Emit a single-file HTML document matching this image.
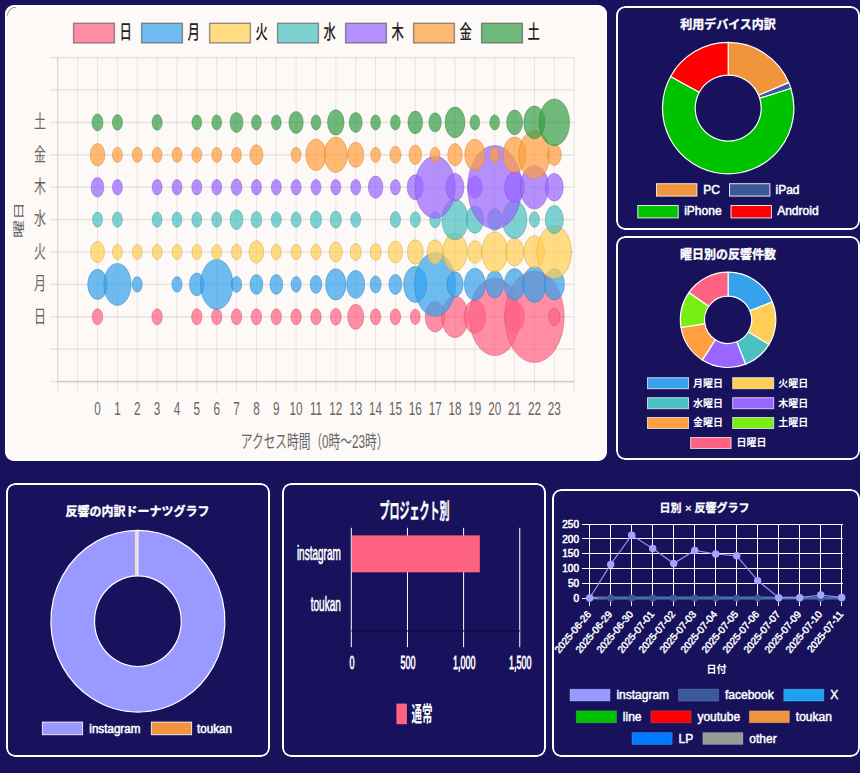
<!DOCTYPE html>
<html lang="ja">
<head>
<meta charset="utf-8">
<title>アクセス解析ダッシュボード</title>
<style>
html,body{margin:0;padding:0}
body{width:860px;height:773px;background:#18125c;position:relative;overflow:hidden;font-family:"Liberation Sans",sans-serif}
.card{position:absolute;margin:0;padding:0;border-radius:9px;overflow:hidden}
.card::after{content:"";position:absolute;left:0;top:0;right:0;bottom:0;border:2px solid #fff;border-radius:9px;box-sizing:border-box;pointer-events:none}
.card.light{background:#fdf9f7}
.card.light::after{border-color:#fffefe}
.card.dark{background:#18125c}
.card svg{position:absolute;left:0;top:0;display:block;font-family:"Liberation Sans","Noto Sans CJK JP",sans-serif}
.sr{position:absolute;width:1px;height:1px;margin:-1px;padding:0;overflow:hidden;clip:rect(0 0 0 0);clip-path:inset(50%);white-space:nowrap;border:0;font-size:1px;color:transparent}
</style>
</head>
<body>
<main>
<section class="card light" style="left:5px;top:5px;width:602px;height:456px;"><h2 class="sr">アクセス時間（0時～23時）× 曜日</h2><svg width="602" height="456" viewBox="5 5 602 456">
<rect x="57.30" y="57.60" width="1" height="336.00" fill="rgba(0,0,0,0.085)"/>
<rect x="77.16" y="57.60" width="1" height="336.00" fill="rgba(0,0,0,0.085)"/>
<rect x="97.02" y="57.60" width="1" height="336.00" fill="rgba(0,0,0,0.085)"/>
<rect x="116.88" y="57.60" width="1" height="336.00" fill="rgba(0,0,0,0.085)"/>
<rect x="136.74" y="57.60" width="1" height="336.00" fill="rgba(0,0,0,0.085)"/>
<rect x="156.60" y="57.60" width="1" height="336.00" fill="rgba(0,0,0,0.085)"/>
<rect x="176.46" y="57.60" width="1" height="336.00" fill="rgba(0,0,0,0.085)"/>
<rect x="196.32" y="57.60" width="1" height="336.00" fill="rgba(0,0,0,0.085)"/>
<rect x="216.18" y="57.60" width="1" height="336.00" fill="rgba(0,0,0,0.085)"/>
<rect x="236.04" y="57.60" width="1" height="336.00" fill="rgba(0,0,0,0.085)"/>
<rect x="255.90" y="57.60" width="1" height="336.00" fill="rgba(0,0,0,0.085)"/>
<rect x="275.76" y="57.60" width="1" height="336.00" fill="rgba(0,0,0,0.085)"/>
<rect x="295.62" y="57.60" width="1" height="336.00" fill="rgba(0,0,0,0.085)"/>
<rect x="315.48" y="57.60" width="1" height="336.00" fill="rgba(0,0,0,0.085)"/>
<rect x="335.34" y="57.60" width="1" height="336.00" fill="rgba(0,0,0,0.085)"/>
<rect x="355.20" y="57.60" width="1" height="336.00" fill="rgba(0,0,0,0.085)"/>
<rect x="375.06" y="57.60" width="1" height="336.00" fill="rgba(0,0,0,0.085)"/>
<rect x="394.92" y="57.60" width="1" height="336.00" fill="rgba(0,0,0,0.085)"/>
<rect x="414.78" y="57.60" width="1" height="336.00" fill="rgba(0,0,0,0.085)"/>
<rect x="434.64" y="57.60" width="1" height="336.00" fill="rgba(0,0,0,0.085)"/>
<rect x="454.50" y="57.60" width="1" height="336.00" fill="rgba(0,0,0,0.085)"/>
<rect x="474.36" y="57.60" width="1" height="336.00" fill="rgba(0,0,0,0.085)"/>
<rect x="494.22" y="57.60" width="1" height="336.00" fill="rgba(0,0,0,0.085)"/>
<rect x="514.08" y="57.60" width="1" height="336.00" fill="rgba(0,0,0,0.085)"/>
<rect x="533.94" y="57.60" width="1" height="336.00" fill="rgba(0,0,0,0.085)"/>
<rect x="553.80" y="57.60" width="1" height="336.00" fill="rgba(0,0,0,0.085)"/>
<rect x="573.66" y="57.60" width="1" height="336.00" fill="rgba(0,0,0,0.085)"/>
<rect x="49.80" y="380.85" width="524.36" height="1.5" fill="rgba(0,0,0,0.085)"/>
<rect x="49.80" y="348.45" width="524.36" height="1.5" fill="rgba(0,0,0,0.085)"/>
<rect x="49.80" y="316.05" width="524.36" height="1.5" fill="rgba(0,0,0,0.085)"/>
<rect x="49.80" y="283.65" width="524.36" height="1.5" fill="rgba(0,0,0,0.085)"/>
<rect x="49.80" y="251.25" width="524.36" height="1.5" fill="rgba(0,0,0,0.085)"/>
<rect x="49.80" y="218.85" width="524.36" height="1.5" fill="rgba(0,0,0,0.085)"/>
<rect x="49.80" y="186.45" width="524.36" height="1.5" fill="rgba(0,0,0,0.085)"/>
<rect x="49.80" y="154.05" width="524.36" height="1.5" fill="rgba(0,0,0,0.085)"/>
<rect x="49.80" y="121.65" width="524.36" height="1.5" fill="rgba(0,0,0,0.085)"/>
<rect x="49.80" y="89.25" width="524.36" height="1.5" fill="rgba(0,0,0,0.085)"/>
<rect x="49.80" y="56.85" width="524.36" height="1.5" fill="rgba(0,0,0,0.085)"/>
<rect x="57.30" y="57.60" width="1" height="324.00" fill="rgba(0,0,0,0.10)"/>
<rect x="57.80" y="380.85" width="516.36" height="1.5" fill="rgba(0,0,0,0.10)"/>
<path d="M7.4 15.6A8.6 8.6 0 0 1 16 7.2" fill="none" stroke="#45416f" stroke-width="0.6"/>
<g fill="rgb(255,99,132)" fill-opacity="0.72" stroke="rgb(204,79,105)" stroke-opacity="0.55" stroke-width="0.8"><ellipse cx="97.5" cy="316.8" rx="5.26" ry="8.10"/><ellipse cx="157.1" cy="316.8" rx="5.20" ry="8.00"/><ellipse cx="196.8" cy="316.8" rx="5.20" ry="8.00"/><ellipse cx="216.7" cy="316.8" rx="5.20" ry="8.00"/><ellipse cx="236.5" cy="316.8" rx="5.20" ry="8.00"/><ellipse cx="256.4" cy="316.8" rx="5.20" ry="8.00"/><ellipse cx="276.3" cy="316.8" rx="5.20" ry="8.00"/><ellipse cx="296.1" cy="316.8" rx="5.20" ry="8.00"/><ellipse cx="316.0" cy="316.8" rx="5.20" ry="8.00"/><ellipse cx="335.8" cy="316.8" rx="5.46" ry="8.40"/><ellipse cx="355.7" cy="316.8" rx="8.12" ry="12.50"/><ellipse cx="375.6" cy="316.8" rx="5.20" ry="8.00"/><ellipse cx="395.4" cy="316.8" rx="5.20" ry="8.00"/><ellipse cx="415.3" cy="316.8" rx="4.94" ry="7.60"/><ellipse cx="435.1" cy="316.8" rx="9.88" ry="15.20"/><ellipse cx="455.0" cy="316.8" rx="13.45" ry="20.70"/><ellipse cx="474.9" cy="316.8" rx="10.85" ry="16.70"/><ellipse cx="494.7" cy="316.8" rx="25.22" ry="38.80"/><ellipse cx="514.6" cy="316.8" rx="9.88" ry="15.20"/><ellipse cx="534.4" cy="316.8" rx="29.77" ry="45.80"/><ellipse cx="554.3" cy="316.8" rx="5.72" ry="8.80"/></g>
<g fill="rgb(54,162,235)" fill-opacity="0.72" stroke="rgb(43,129,188)" stroke-opacity="0.55" stroke-width="0.8"><ellipse cx="97.5" cy="284.4" rx="9.81" ry="15.10"/><ellipse cx="117.4" cy="284.4" rx="13.65" ry="21.00"/><ellipse cx="137.2" cy="284.4" rx="5.07" ry="7.80"/><ellipse cx="177.0" cy="284.4" rx="5.07" ry="7.80"/><ellipse cx="196.8" cy="284.4" rx="7.41" ry="11.40"/><ellipse cx="216.7" cy="284.4" rx="16.25" ry="25.00"/><ellipse cx="236.5" cy="284.4" rx="5.20" ry="8.00"/><ellipse cx="256.4" cy="284.4" rx="6.43" ry="9.90"/><ellipse cx="276.3" cy="284.4" rx="6.43" ry="9.90"/><ellipse cx="296.1" cy="284.4" rx="5.07" ry="7.80"/><ellipse cx="316.0" cy="284.4" rx="5.85" ry="9.00"/><ellipse cx="335.8" cy="284.4" rx="10.21" ry="15.70"/><ellipse cx="355.7" cy="284.4" rx="9.10" ry="14.00"/><ellipse cx="375.6" cy="284.4" rx="5.52" ry="8.50"/><ellipse cx="395.4" cy="284.4" rx="6.50" ry="10.00"/><ellipse cx="415.3" cy="284.4" rx="11.70" ry="18.00"/><ellipse cx="435.1" cy="284.4" rx="20.67" ry="31.80"/><ellipse cx="455.0" cy="284.4" rx="8.19" ry="12.60"/><ellipse cx="474.9" cy="284.4" rx="10.53" ry="16.20"/><ellipse cx="494.7" cy="284.4" rx="8.84" ry="13.60"/><ellipse cx="514.6" cy="284.4" rx="10.27" ry="15.80"/><ellipse cx="534.4" cy="284.4" rx="11.70" ry="18.00"/><ellipse cx="554.3" cy="284.4" rx="10.14" ry="15.60"/></g>
<g fill="rgb(255,206,86)" fill-opacity="0.72" stroke="rgb(204,164,68)" stroke-opacity="0.55" stroke-width="0.8"><ellipse cx="97.5" cy="252.0" rx="6.95" ry="10.70"/><ellipse cx="117.4" cy="252.0" rx="4.94" ry="7.60"/><ellipse cx="137.2" cy="252.0" rx="4.94" ry="7.60"/><ellipse cx="157.1" cy="252.0" rx="4.94" ry="7.60"/><ellipse cx="177.0" cy="252.0" rx="4.94" ry="7.60"/><ellipse cx="196.8" cy="252.0" rx="4.94" ry="7.60"/><ellipse cx="216.7" cy="252.0" rx="4.94" ry="7.60"/><ellipse cx="236.5" cy="252.0" rx="5.00" ry="7.70"/><ellipse cx="256.4" cy="252.0" rx="7.34" ry="11.30"/><ellipse cx="276.3" cy="252.0" rx="5.00" ry="7.70"/><ellipse cx="296.1" cy="252.0" rx="5.00" ry="7.70"/><ellipse cx="316.0" cy="252.0" rx="5.00" ry="7.70"/><ellipse cx="335.8" cy="252.0" rx="6.57" ry="10.10"/><ellipse cx="355.7" cy="252.0" rx="5.52" ry="8.50"/><ellipse cx="375.6" cy="252.0" rx="5.52" ry="8.50"/><ellipse cx="395.4" cy="252.0" rx="7.15" ry="11.00"/><ellipse cx="415.3" cy="252.0" rx="7.93" ry="12.20"/><ellipse cx="435.1" cy="252.0" rx="7.93" ry="12.20"/><ellipse cx="455.0" cy="252.0" rx="12.35" ry="19.00"/><ellipse cx="474.9" cy="252.0" rx="7.34" ry="11.30"/><ellipse cx="494.7" cy="252.0" rx="13.00" ry="20.00"/><ellipse cx="514.6" cy="252.0" rx="9.10" ry="14.00"/><ellipse cx="534.4" cy="252.0" rx="10.60" ry="16.30"/><ellipse cx="554.3" cy="252.0" rx="17.22" ry="26.50"/></g>
<g fill="rgb(75,192,192)" fill-opacity="0.72" stroke="rgb(60,153,153)" stroke-opacity="0.55" stroke-width="0.8"><ellipse cx="97.5" cy="219.6" rx="4.94" ry="7.60"/><ellipse cx="117.4" cy="219.6" rx="4.94" ry="7.60"/><ellipse cx="157.1" cy="219.6" rx="4.94" ry="7.60"/><ellipse cx="177.0" cy="219.6" rx="4.94" ry="7.60"/><ellipse cx="196.8" cy="219.6" rx="4.94" ry="7.60"/><ellipse cx="216.7" cy="219.6" rx="4.94" ry="7.60"/><ellipse cx="236.5" cy="219.6" rx="6.43" ry="9.90"/><ellipse cx="256.4" cy="219.6" rx="5.33" ry="8.20"/><ellipse cx="276.3" cy="219.6" rx="5.00" ry="7.70"/><ellipse cx="296.1" cy="219.6" rx="5.00" ry="7.70"/><ellipse cx="316.0" cy="219.6" rx="5.59" ry="8.60"/><ellipse cx="335.8" cy="219.6" rx="5.59" ry="8.60"/><ellipse cx="355.7" cy="219.6" rx="5.00" ry="7.70"/><ellipse cx="395.4" cy="219.6" rx="5.20" ry="8.00"/><ellipse cx="415.3" cy="219.6" rx="5.07" ry="7.80"/><ellipse cx="435.1" cy="219.6" rx="5.33" ry="8.20"/><ellipse cx="455.0" cy="219.6" rx="13.20" ry="20.30"/><ellipse cx="474.9" cy="219.6" rx="8.84" ry="13.60"/><ellipse cx="494.7" cy="219.6" rx="7.15" ry="11.00"/><ellipse cx="514.6" cy="219.6" rx="12.35" ry="19.00"/><ellipse cx="534.4" cy="219.6" rx="5.07" ry="7.80"/><ellipse cx="554.3" cy="219.6" rx="9.10" ry="14.00"/></g>
<g fill="rgb(153,102,255)" fill-opacity="0.72" stroke="rgb(122,81,204)" stroke-opacity="0.55" stroke-width="0.8"><ellipse cx="97.5" cy="187.2" rx="6.37" ry="9.80"/><ellipse cx="117.4" cy="187.2" rx="5.00" ry="7.70"/><ellipse cx="157.1" cy="187.2" rx="5.00" ry="7.70"/><ellipse cx="177.0" cy="187.2" rx="5.00" ry="7.70"/><ellipse cx="196.8" cy="187.2" rx="5.00" ry="7.70"/><ellipse cx="216.7" cy="187.2" rx="5.00" ry="7.70"/><ellipse cx="236.5" cy="187.2" rx="5.33" ry="8.20"/><ellipse cx="256.4" cy="187.2" rx="5.00" ry="7.70"/><ellipse cx="276.3" cy="187.2" rx="5.00" ry="7.70"/><ellipse cx="296.1" cy="187.2" rx="5.00" ry="7.70"/><ellipse cx="316.0" cy="187.2" rx="5.00" ry="7.70"/><ellipse cx="335.8" cy="187.2" rx="5.00" ry="7.70"/><ellipse cx="355.7" cy="187.2" rx="5.00" ry="7.70"/><ellipse cx="375.6" cy="187.2" rx="7.28" ry="11.20"/><ellipse cx="395.4" cy="187.2" rx="5.00" ry="7.70"/><ellipse cx="415.3" cy="187.2" rx="8.12" ry="12.50"/><ellipse cx="435.1" cy="187.2" rx="20.15" ry="31.00"/><ellipse cx="455.0" cy="187.2" rx="8.97" ry="13.80"/><ellipse cx="474.9" cy="187.2" rx="7.28" ry="11.20"/><ellipse cx="494.7" cy="187.2" rx="27.11" ry="41.70"/><ellipse cx="514.6" cy="187.2" rx="9.88" ry="15.20"/><ellipse cx="534.4" cy="187.2" rx="14.17" ry="21.80"/><ellipse cx="554.3" cy="187.2" rx="8.97" ry="13.80"/></g>
<g fill="rgb(255,159,64)" fill-opacity="0.72" stroke="rgb(204,127,51)" stroke-opacity="0.55" stroke-width="0.8"><ellipse cx="97.5" cy="154.8" rx="7.34" ry="11.30"/><ellipse cx="117.4" cy="154.8" rx="4.94" ry="7.60"/><ellipse cx="137.2" cy="154.8" rx="4.94" ry="7.60"/><ellipse cx="157.1" cy="154.8" rx="4.94" ry="7.60"/><ellipse cx="177.0" cy="154.8" rx="4.94" ry="7.60"/><ellipse cx="196.8" cy="154.8" rx="4.94" ry="7.60"/><ellipse cx="216.7" cy="154.8" rx="4.94" ry="7.60"/><ellipse cx="236.5" cy="154.8" rx="4.94" ry="7.60"/><ellipse cx="256.4" cy="154.8" rx="6.50" ry="10.00"/><ellipse cx="296.1" cy="154.8" rx="4.94" ry="7.60"/><ellipse cx="316.0" cy="154.8" rx="10.21" ry="15.70"/><ellipse cx="335.8" cy="154.8" rx="11.51" ry="17.70"/><ellipse cx="355.7" cy="154.8" rx="8.12" ry="12.50"/><ellipse cx="375.6" cy="154.8" rx="4.94" ry="7.60"/><ellipse cx="395.4" cy="154.8" rx="5.52" ry="8.50"/><ellipse cx="415.3" cy="154.8" rx="6.30" ry="9.70"/><ellipse cx="435.1" cy="154.8" rx="4.94" ry="7.60"/><ellipse cx="455.0" cy="154.8" rx="7.28" ry="11.20"/><ellipse cx="474.9" cy="154.8" rx="10.14" ry="15.60"/><ellipse cx="494.7" cy="154.8" rx="4.94" ry="7.60"/><ellipse cx="514.6" cy="154.8" rx="11.57" ry="17.80"/><ellipse cx="534.4" cy="154.8" rx="15.60" ry="24.00"/><ellipse cx="554.3" cy="154.8" rx="6.95" ry="10.70"/></g>
<g fill="rgb(57,160,73)" fill-opacity="0.72" stroke="rgb(45,128,58)" stroke-opacity="0.55" stroke-width="0.8"><ellipse cx="97.5" cy="122.4" rx="5.52" ry="8.50"/><ellipse cx="117.4" cy="122.4" rx="5.07" ry="7.80"/><ellipse cx="157.1" cy="122.4" rx="5.07" ry="7.80"/><ellipse cx="196.8" cy="122.4" rx="4.88" ry="7.50"/><ellipse cx="216.7" cy="122.4" rx="4.88" ry="7.50"/><ellipse cx="236.5" cy="122.4" rx="6.50" ry="10.00"/><ellipse cx="256.4" cy="122.4" rx="4.88" ry="7.50"/><ellipse cx="276.3" cy="122.4" rx="4.88" ry="7.50"/><ellipse cx="296.1" cy="122.4" rx="7.15" ry="11.00"/><ellipse cx="316.0" cy="122.4" rx="4.88" ry="7.50"/><ellipse cx="335.8" cy="122.4" rx="8.25" ry="12.70"/><ellipse cx="355.7" cy="122.4" rx="6.50" ry="10.00"/><ellipse cx="375.6" cy="122.4" rx="4.88" ry="7.50"/><ellipse cx="395.4" cy="122.4" rx="4.88" ry="7.50"/><ellipse cx="415.3" cy="122.4" rx="7.34" ry="11.30"/><ellipse cx="435.1" cy="122.4" rx="6.24" ry="9.60"/><ellipse cx="455.0" cy="122.4" rx="9.95" ry="15.30"/><ellipse cx="474.9" cy="122.4" rx="4.88" ry="7.50"/><ellipse cx="494.7" cy="122.4" rx="4.88" ry="7.50"/><ellipse cx="514.6" cy="122.4" rx="8.00" ry="12.30"/><ellipse cx="534.4" cy="122.4" rx="10.66" ry="16.40"/><ellipse cx="554.3" cy="122.4" rx="15.21" ry="23.40"/></g>
<rect x="73.6" y="23.3" width="40.8" height="19.6" fill="rgb(255,99,132)" fill-opacity="0.72" stroke="rgba(80,80,80,0.6)" stroke-width="1.4"/>
<text x="0" y="0" font-size="19.05" font-weight="500" fill="#222" transform="translate(119.60 38.60) scale(0.65 1)">日</text>
<rect x="141.6" y="23.3" width="40.8" height="19.6" fill="rgb(54,162,235)" fill-opacity="0.72" stroke="rgba(80,80,80,0.6)" stroke-width="1.4"/>
<text x="0" y="0" font-size="19.05" font-weight="500" fill="#222" transform="translate(187.60 38.60) scale(0.65 1)">月</text>
<rect x="209.6" y="23.3" width="40.8" height="19.6" fill="rgb(255,206,86)" fill-opacity="0.72" stroke="rgba(80,80,80,0.6)" stroke-width="1.4"/>
<text x="0" y="0" font-size="19.05" font-weight="500" fill="#222" transform="translate(255.60 38.60) scale(0.65 1)">火</text>
<rect x="277.6" y="23.3" width="40.8" height="19.6" fill="rgb(75,192,192)" fill-opacity="0.72" stroke="rgba(80,80,80,0.6)" stroke-width="1.4"/>
<text x="0" y="0" font-size="19.05" font-weight="500" fill="#222" transform="translate(323.60 38.60) scale(0.65 1)">水</text>
<rect x="345.6" y="23.3" width="40.8" height="19.6" fill="rgb(153,102,255)" fill-opacity="0.72" stroke="rgba(80,80,80,0.6)" stroke-width="1.4"/>
<text x="0" y="0" font-size="19.05" font-weight="500" fill="#222" transform="translate(391.60 38.60) scale(0.65 1)">木</text>
<rect x="413.6" y="23.3" width="40.8" height="19.6" fill="rgb(255,159,64)" fill-opacity="0.72" stroke="rgba(80,80,80,0.6)" stroke-width="1.4"/>
<text x="0" y="0" font-size="19.05" font-weight="500" fill="#222" transform="translate(459.60 38.60) scale(0.65 1)">金</text>
<rect x="481.6" y="23.3" width="40.8" height="19.6" fill="rgb(57,160,73)" fill-opacity="0.72" stroke="rgba(80,80,80,0.6)" stroke-width="1.4"/>
<text x="0" y="0" font-size="19.05" font-weight="500" fill="#222" transform="translate(527.60 38.60) scale(0.65 1)">土</text>
<text x="0" y="0" font-size="18.45" fill="#666" text-anchor="end" transform="translate(46.00 322.50) scale(0.65 1)">日</text>
<text x="0" y="0" font-size="18.45" fill="#666" text-anchor="end" transform="translate(46.00 290.10) scale(0.65 1)">月</text>
<text x="0" y="0" font-size="18.45" fill="#666" text-anchor="end" transform="translate(46.00 257.70) scale(0.65 1)">火</text>
<text x="0" y="0" font-size="18.45" fill="#666" text-anchor="end" transform="translate(46.00 225.30) scale(0.65 1)">水</text>
<text x="0" y="0" font-size="18.45" fill="#666" text-anchor="end" transform="translate(46.00 192.90) scale(0.65 1)">木</text>
<text x="0" y="0" font-size="18.45" fill="#666" text-anchor="end" transform="translate(46.00 160.50) scale(0.65 1)">金</text>
<text x="0" y="0" font-size="18.45" fill="#666" text-anchor="end" transform="translate(46.00 128.10) scale(0.65 1)">土</text>
<text x="0.00" y="0.00" font-size="12" fill="#666" text-anchor="middle" transform="translate(97.52 415.20) scale(0.9750 1.5000)">0</text>
<text x="0.00" y="0.00" font-size="12" fill="#666" text-anchor="middle" transform="translate(117.38 415.20) scale(0.9750 1.5000)">1</text>
<text x="0.00" y="0.00" font-size="12" fill="#666" text-anchor="middle" transform="translate(137.24 415.20) scale(0.9750 1.5000)">2</text>
<text x="0.00" y="0.00" font-size="12" fill="#666" text-anchor="middle" transform="translate(157.10 415.20) scale(0.9750 1.5000)">3</text>
<text x="0.00" y="0.00" font-size="12" fill="#666" text-anchor="middle" transform="translate(176.96 415.20) scale(0.9750 1.5000)">4</text>
<text x="0.00" y="0.00" font-size="12" fill="#666" text-anchor="middle" transform="translate(196.82 415.20) scale(0.9750 1.5000)">5</text>
<text x="0.00" y="0.00" font-size="12" fill="#666" text-anchor="middle" transform="translate(216.68 415.20) scale(0.9750 1.5000)">6</text>
<text x="0.00" y="0.00" font-size="12" fill="#666" text-anchor="middle" transform="translate(236.54 415.20) scale(0.9750 1.5000)">7</text>
<text x="0.00" y="0.00" font-size="12" fill="#666" text-anchor="middle" transform="translate(256.40 415.20) scale(0.9750 1.5000)">8</text>
<text x="0.00" y="0.00" font-size="12" fill="#666" text-anchor="middle" transform="translate(276.26 415.20) scale(0.9750 1.5000)">9</text>
<text x="0.00" y="0.00" font-size="12" fill="#666" text-anchor="middle" transform="translate(296.12 415.20) scale(0.9750 1.5000)">10</text>
<text x="0.00" y="0.00" font-size="12" fill="#666" text-anchor="middle" transform="translate(315.98 415.20) scale(0.9750 1.5000)">11</text>
<text x="0.00" y="0.00" font-size="12" fill="#666" text-anchor="middle" transform="translate(335.84 415.20) scale(0.9750 1.5000)">12</text>
<text x="0.00" y="0.00" font-size="12" fill="#666" text-anchor="middle" transform="translate(355.70 415.20) scale(0.9750 1.5000)">13</text>
<text x="0.00" y="0.00" font-size="12" fill="#666" text-anchor="middle" transform="translate(375.56 415.20) scale(0.9750 1.5000)">14</text>
<text x="0.00" y="0.00" font-size="12" fill="#666" text-anchor="middle" transform="translate(395.42 415.20) scale(0.9750 1.5000)">15</text>
<text x="0.00" y="0.00" font-size="12" fill="#666" text-anchor="middle" transform="translate(415.28 415.20) scale(0.9750 1.5000)">16</text>
<text x="0.00" y="0.00" font-size="12" fill="#666" text-anchor="middle" transform="translate(435.14 415.20) scale(0.9750 1.5000)">17</text>
<text x="0.00" y="0.00" font-size="12" fill="#666" text-anchor="middle" transform="translate(455.00 415.20) scale(0.9750 1.5000)">18</text>
<text x="0.00" y="0.00" font-size="12" fill="#666" text-anchor="middle" transform="translate(474.86 415.20) scale(0.9750 1.5000)">19</text>
<text x="0.00" y="0.00" font-size="12" fill="#666" text-anchor="middle" transform="translate(494.72 415.20) scale(0.9750 1.5000)">20</text>
<text x="0.00" y="0.00" font-size="12" fill="#666" text-anchor="middle" transform="translate(514.58 415.20) scale(0.9750 1.5000)">21</text>
<text x="0.00" y="0.00" font-size="12" fill="#666" text-anchor="middle" transform="translate(534.44 415.20) scale(0.9750 1.5000)">22</text>
<text x="0.00" y="0.00" font-size="12" fill="#666" text-anchor="middle" transform="translate(554.30 415.20) scale(0.9750 1.5000)">23</text>
<text x="0" y="0" font-size="18" fill="#666" text-anchor="middle" transform="translate(314.60 447.50) scale(0.65 1)">アクセス時間（0時～23時）</text>
<text x="0" y="0" font-size="11.7" fill="#666" text-anchor="middle" transform="translate(23.40 220.00) rotate(-90) scale(1.5385 1)">曜日</text>
</svg></section>
<section class="card dark" style="left:616px;top:6px;width:244px;height:224px;"><h2 class="sr">利用デバイス内訳</h2><svg width="244" height="224" viewBox="616 6 244 224">
<text x="728.00" y="29.30" font-size="12" font-weight="bold" fill="#fff" stroke="#fff" stroke-width="0.35" text-anchor="middle">利用デバイス内訳</text>
<g stroke="#fff" stroke-width="1.2" stroke-linejoin="round"><path d="M728.20 42.40A65.70 65.70 0 0 1 788.77 82.64L758.62 95.31A33.00 33.00 0 0 0 728.20 75.10Z" fill="#f0953c"/><path d="M788.77 82.64A65.70 65.70 0 0 1 790.89 88.45L759.69 98.23A33.00 33.00 0 0 0 758.62 95.31Z" fill="#3b5998"/><path d="M790.89 88.45A65.70 65.70 0 1 1 670.63 76.45L699.28 92.20A33.00 33.00 0 1 0 759.69 98.23Z" fill="#00c300"/><path d="M670.63 76.45A65.70 65.70 0 0 1 728.20 42.40L728.20 75.10A33.00 33.00 0 0 0 699.28 92.20Z" fill="#ff0000"/></g>
<rect x="656.50" y="183.70" width="40.40" height="12.40" fill="#f0953c" stroke="rgba(255,255,255,0.85)" stroke-width="1"/>
<text x="703.30" y="193.50" font-size="12" fill="#fff" stroke="#fff" stroke-width="0.5">PC</text>
<rect x="729.50" y="183.70" width="40.40" height="12.40" fill="#3b5998" stroke="rgba(255,255,255,0.85)" stroke-width="1"/>
<text x="775.50" y="193.50" font-size="12" fill="#fff" stroke="#fff" stroke-width="0.5">iPad</text>
<rect x="637.80" y="205.50" width="40.40" height="12.40" fill="#00c300" stroke="rgba(255,255,255,0.85)" stroke-width="1"/>
<text x="684.20" y="215.30" font-size="12" fill="#fff" stroke="#fff" stroke-width="0.5">iPhone</text>
<rect x="731.00" y="205.50" width="40.40" height="12.40" fill="#ff0000" stroke="rgba(255,255,255,0.85)" stroke-width="1"/>
<text x="777.20" y="215.30" font-size="12" fill="#fff" stroke="#fff" stroke-width="0.5">Android</text>
</svg></section>
<section class="card dark" style="left:616px;top:236px;width:244px;height:224px;"><h2 class="sr">曜日別の反響件数</h2><svg width="244" height="224" viewBox="616 236 244 224">
<text x="728.00" y="259.30" font-size="12" font-weight="bold" fill="#fff" stroke="#fff" stroke-width="0.35" text-anchor="middle">曜日別の反響件数</text>
<g stroke="#fff" stroke-width="1.2" stroke-linejoin="round"><path d="M728.10 272.10A47.70 47.70 0 0 1 772.30 301.85L749.97 310.92A23.60 23.60 0 0 0 728.10 296.20Z" fill="rgb(54,162,235)"/><path d="M772.30 301.85A47.70 47.70 0 0 1 768.86 344.58L748.27 332.06A23.60 23.60 0 0 0 749.97 310.92Z" fill="rgb(255,206,86)"/><path d="M768.86 344.58A47.70 47.70 0 0 1 745.58 364.18L736.75 341.76A23.60 23.60 0 0 0 748.27 332.06Z" fill="rgb(75,192,192)"/><path d="M745.58 364.18A47.70 47.70 0 0 1 702.33 359.94L715.35 339.66A23.60 23.60 0 0 0 736.75 341.76Z" fill="rgb(153,102,255)"/><path d="M702.33 359.94A47.70 47.70 0 0 1 681.03 327.51L704.81 323.61A23.60 23.60 0 0 0 715.35 339.66Z" fill="rgb(255,159,64)"/><path d="M681.03 327.51A47.70 47.70 0 0 1 689.03 292.44L708.77 306.26A23.60 23.60 0 0 0 704.81 323.61Z" fill="#78ee15"/><path d="M689.03 292.44A47.70 47.70 0 0 1 728.10 272.10L728.10 296.20A23.60 23.60 0 0 0 708.77 306.26Z" fill="rgb(255,99,132)"/></g>
<rect x="647.50" y="377.70" width="41.00" height="11.00" fill="rgb(54,162,235)" stroke="rgba(255,255,255,0.7)" stroke-width="1"/>
<text x="693.00" y="386.60" font-size="10" font-weight="bold" fill="#fff">月曜日</text>
<rect x="732.70" y="377.70" width="41.00" height="11.00" fill="rgb(255,206,86)" stroke="rgba(255,255,255,0.7)" stroke-width="1"/>
<text x="778.20" y="386.60" font-size="10" font-weight="bold" fill="#fff">火曜日</text>
<rect x="647.50" y="397.70" width="41.00" height="11.00" fill="rgb(75,192,192)" stroke="rgba(255,255,255,0.7)" stroke-width="1"/>
<text x="693.00" y="406.60" font-size="10" font-weight="bold" fill="#fff">水曜日</text>
<rect x="732.70" y="397.70" width="41.00" height="11.00" fill="rgb(153,102,255)" stroke="rgba(255,255,255,0.7)" stroke-width="1"/>
<text x="778.20" y="406.60" font-size="10" font-weight="bold" fill="#fff">木曜日</text>
<rect x="647.50" y="417.50" width="41.00" height="11.00" fill="rgb(255,159,64)" stroke="rgba(255,255,255,0.7)" stroke-width="1"/>
<text x="693.00" y="426.40" font-size="10" font-weight="bold" fill="#fff">金曜日</text>
<rect x="732.70" y="417.50" width="41.00" height="11.00" fill="#78ee15" stroke="rgba(255,255,255,0.7)" stroke-width="1"/>
<text x="778.20" y="426.40" font-size="10" font-weight="bold" fill="#fff">土曜日</text>
<rect x="690.60" y="437.50" width="40.50" height="11.00" fill="rgb(255,99,132)" stroke="rgba(255,255,255,0.7)" stroke-width="1"/>
<text x="736.60" y="446.40" font-size="10" font-weight="bold" fill="#fff">日曜日</text>
</svg></section>
<section class="card dark" style="left:6px;top:483px;width:264px;height:274px;"><h2 class="sr">反響の内訳ドーナツグラフ</h2><svg width="264" height="274" viewBox="6 483 264 274">
<text x="137.50" y="516.40" font-size="12" font-weight="bold" fill="#fff" stroke="#fff" stroke-width="0.35" text-anchor="middle">反響の内訳ドーナツグラフ</text>
<g stroke="#fff" stroke-width="1.2" stroke-linejoin="round"><path d="M137.90 530.37A87.00 90.83 0 1 1 137.88 530.37L137.89 575.89A43.40 45.31 0 1 0 137.90 575.89Z" fill="#9999ff"/></g>
<rect x="134.9" y="530.6" width="2.2" height="45.4" fill="#f6dcd0"/>
<rect x="42.40" y="722.10" width="40.20" height="12.60" fill="#9999ff" stroke="rgba(255,255,255,0.85)" stroke-width="1"/>
<text x="0.00" y="0.00" font-size="12" fill="#fff" transform="translate(89.30 732.60) scale(0.9700 1.0600)" stroke="#fff" stroke-width="0.5">instagram</text>
<rect x="151.40" y="722.10" width="40.20" height="12.60" fill="#f0953c" stroke="rgba(255,255,255,0.85)" stroke-width="1"/>
<text x="0.00" y="0.00" font-size="12" fill="#fff" transform="translate(197.00 732.60) scale(0.9700 1.0600)" stroke="#fff" stroke-width="0.5">toukan</text>
</svg></section>
<section class="card dark" style="left:282px;top:483px;width:264px;height:274px;"><h2 class="sr">プロジェクト別</h2><svg width="264" height="274" viewBox="282 483 264 274">
<text x="0" y="0" font-size="21" font-weight="bold" fill="#fff" stroke="#fff" stroke-width="0.44" text-anchor="middle" transform="translate(414.50 518.20) scale(0.4767 1)">プロジェクト別</text>
<rect x="350.80" y="527.8" width="1" height="119.4" fill="#fff"/>
<text x="0.00" y="0.00" font-size="12" fill="#fff" text-anchor="middle" transform="translate(351.90 669.20) scale(0.7500 1.5700)" stroke="#fff" stroke-width="0.5">0</text>
<rect x="406.95" y="527.8" width="1" height="119.4" fill="#fff"/>
<text x="0.00" y="0.00" font-size="12" fill="#fff" text-anchor="middle" transform="translate(408.05 669.20) scale(0.7500 1.5700)" stroke="#fff" stroke-width="0.5">500</text>
<rect x="463.10" y="527.8" width="1" height="119.4" fill="#fff"/>
<text x="0.00" y="0.00" font-size="12" fill="#fff" text-anchor="middle" transform="translate(464.20 669.20) scale(0.7500 1.5700)" stroke="#fff" stroke-width="0.5">1,000</text>
<rect x="519.25" y="527.8" width="1" height="119.4" fill="#fff"/>
<text x="0.00" y="0.00" font-size="12" fill="#fff" text-anchor="middle" transform="translate(520.35 669.20) scale(0.7500 1.5700)" stroke="#fff" stroke-width="0.5">1,500</text>
<rect x="351.3" y="630.3" width="168.5" height="1.2" fill="#0f0c3c"/>
<rect x="351.8" y="535.4" width="128" height="36.9" fill="rgb(255,99,132)"/>
<text x="0.00" y="0.00" font-size="14" fill="#fff" text-anchor="end" transform="translate(340.80 559.60) scale(0.7150 1.5000)" stroke="#fff" stroke-width="0.5">instagram</text>
<text x="0.00" y="0.00" font-size="14" fill="#fff" text-anchor="end" transform="translate(340.80 611.00) scale(0.7150 1.5000)" stroke="#fff" stroke-width="0.5">toukan</text>
<rect x="396.4" y="703.6" width="10.5" height="20.6" fill="rgb(255,99,132)"/>
<text x="0" y="0" font-size="21" font-weight="bold" fill="#fff" transform="translate(411.40 721.20) scale(0.5 1)">通常</text>
</svg></section>
<section class="card dark" style="left:552px;top:489px;width:308px;height:268px;"><h2 class="sr">日別 × 反響グラフ</h2><svg width="308" height="268" viewBox="552 489 308 268">
<text x="659.60" y="512.20" font-size="11" font-weight="bold" fill="#fff" stroke="#fff" stroke-width="0.3">日別</text>
<text x="685.00" y="512.00" font-size="11.5" fill="#fff" font-weight="bold">×</text>
<text x="694.60" y="512.20" font-size="11" font-weight="bold" fill="#fff" stroke="#fff" stroke-width="0.3">反響グラフ</text>
<rect x="589" y="524" width="1" height="82" fill="#fff"/>
<rect x="610" y="524" width="1" height="82" fill="#fff"/>
<rect x="631" y="524" width="1" height="82" fill="#fff"/>
<rect x="652" y="524" width="1" height="82" fill="#fff"/>
<rect x="673" y="524" width="1" height="82" fill="#fff"/>
<rect x="694" y="524" width="1" height="82" fill="#fff"/>
<rect x="715" y="524" width="1" height="82" fill="#fff"/>
<rect x="736" y="524" width="1" height="82" fill="#fff"/>
<rect x="757" y="524" width="1" height="82" fill="#fff"/>
<rect x="778" y="524" width="1" height="82" fill="#fff"/>
<rect x="799" y="524" width="1" height="82" fill="#fff"/>
<rect x="820" y="524" width="1" height="82" fill="#fff"/>
<rect x="841" y="524" width="1" height="82" fill="#fff"/>
<rect x="582" y="598" width="261" height="1" fill="#fff"/>
<text x="579.00" y="601.70" font-size="10" fill="#fff" text-anchor="end" stroke="#fff" stroke-width="0.55">0</text>
<rect x="582" y="583" width="261" height="1" fill="#fff"/>
<text x="579.00" y="586.95" font-size="10" fill="#fff" text-anchor="end" stroke="#fff" stroke-width="0.55">50</text>
<rect x="582" y="568" width="261" height="1" fill="#fff"/>
<text x="579.00" y="572.20" font-size="10" fill="#fff" text-anchor="end" stroke="#fff" stroke-width="0.55">100</text>
<rect x="582" y="553" width="261" height="1" fill="#fff"/>
<text x="579.00" y="557.45" font-size="10" fill="#fff" text-anchor="end" stroke="#fff" stroke-width="0.55">150</text>
<rect x="582" y="538" width="261" height="1" fill="#fff"/>
<text x="579.00" y="542.70" font-size="10" fill="#fff" text-anchor="end" stroke="#fff" stroke-width="0.55">200</text>
<rect x="582" y="524" width="261" height="1" fill="#fff"/>
<text x="579.00" y="527.95" font-size="10" fill="#fff" text-anchor="end" stroke="#fff" stroke-width="0.55">250</text>
<line x1="589.7" y1="598.0" x2="601.7" y2="598.0" stroke="#999" stroke-width="2.6"/>
<line x1="597.7" y1="598.0" x2="841.7" y2="598.0" stroke="#4a6ea6" stroke-width="2.8"/>
<circle cx="589.7" cy="598.0" r="3.6" fill="#3b5998"/>
<circle cx="610.7" cy="598.0" r="3.6" fill="#3b5998"/>
<circle cx="631.7" cy="598.0" r="3.6" fill="#3b5998"/>
<circle cx="652.7" cy="598.0" r="3.6" fill="#3b5998"/>
<circle cx="673.7" cy="598.0" r="3.6" fill="#3b5998"/>
<circle cx="694.7" cy="598.0" r="3.6" fill="#3b5998"/>
<circle cx="715.7" cy="598.0" r="3.6" fill="#3b5998"/>
<circle cx="736.7" cy="598.0" r="3.6" fill="#3b5998"/>
<circle cx="757.7" cy="598.0" r="3.6" fill="#3b5998"/>
<circle cx="778.7" cy="598.0" r="3.6" fill="#3b5998"/>
<circle cx="799.7" cy="598.0" r="3.6" fill="#3b5998"/>
<circle cx="820.7" cy="598.0" r="3.6" fill="#3b5998"/>
<circle cx="841.7" cy="598.0" r="3.6" fill="#3b5998"/>
<polyline points="589.7,598.0 610.7,564.4 631.7,535.2 652.7,548.4 673.7,563.5 694.7,550.5 715.7,554.0 736.7,555.8 757.7,580.6 778.7,597.7 799.7,597.7 820.7,595.0 841.7,597.4" fill="none" stroke="#9090f0" stroke-width="1.2"/>
<circle cx="589.7" cy="598.0" r="3.7" fill="#a3a3ff"/>
<circle cx="610.7" cy="564.4" r="3.7" fill="#a3a3ff"/>
<circle cx="631.7" cy="535.2" r="3.7" fill="#a3a3ff"/>
<circle cx="652.7" cy="548.4" r="3.7" fill="#a3a3ff"/>
<circle cx="673.7" cy="563.5" r="3.7" fill="#a3a3ff"/>
<circle cx="694.7" cy="550.5" r="3.7" fill="#a3a3ff"/>
<circle cx="715.7" cy="554.0" r="3.7" fill="#a3a3ff"/>
<circle cx="736.7" cy="555.8" r="3.7" fill="#a3a3ff"/>
<circle cx="757.7" cy="580.6" r="3.7" fill="#a3a3ff"/>
<circle cx="778.7" cy="597.7" r="3.7" fill="#a3a3ff"/>
<circle cx="799.7" cy="597.7" r="3.7" fill="#a3a3ff"/>
<circle cx="820.7" cy="595.0" r="3.7" fill="#a3a3ff"/>
<circle cx="841.7" cy="597.4" r="3.7" fill="#a3a3ff"/>
<text x="0.00" y="0.00" font-size="10" fill="#fff" text-anchor="end" transform="translate(591.70 614.40) rotate(-50.5)" stroke="#fff" stroke-width="0.45">2025-06-26</text>
<text x="0.00" y="0.00" font-size="10" fill="#fff" text-anchor="end" transform="translate(612.70 614.40) rotate(-50.5)" stroke="#fff" stroke-width="0.45">2025-06-29</text>
<text x="0.00" y="0.00" font-size="10" fill="#fff" text-anchor="end" transform="translate(633.70 614.40) rotate(-50.5)" stroke="#fff" stroke-width="0.45">2025-06-30</text>
<text x="0.00" y="0.00" font-size="10" fill="#fff" text-anchor="end" transform="translate(654.70 614.40) rotate(-50.5)" stroke="#fff" stroke-width="0.45">2025-07-01</text>
<text x="0.00" y="0.00" font-size="10" fill="#fff" text-anchor="end" transform="translate(675.70 614.40) rotate(-50.5)" stroke="#fff" stroke-width="0.45">2025-07-02</text>
<text x="0.00" y="0.00" font-size="10" fill="#fff" text-anchor="end" transform="translate(696.70 614.40) rotate(-50.5)" stroke="#fff" stroke-width="0.45">2025-07-03</text>
<text x="0.00" y="0.00" font-size="10" fill="#fff" text-anchor="end" transform="translate(717.70 614.40) rotate(-50.5)" stroke="#fff" stroke-width="0.45">2025-07-04</text>
<text x="0.00" y="0.00" font-size="10" fill="#fff" text-anchor="end" transform="translate(738.70 614.40) rotate(-50.5)" stroke="#fff" stroke-width="0.45">2025-07-05</text>
<text x="0.00" y="0.00" font-size="10" fill="#fff" text-anchor="end" transform="translate(759.70 614.40) rotate(-50.5)" stroke="#fff" stroke-width="0.45">2025-07-06</text>
<text x="0.00" y="0.00" font-size="10" fill="#fff" text-anchor="end" transform="translate(780.70 614.40) rotate(-50.5)" stroke="#fff" stroke-width="0.45">2025-07-07</text>
<text x="0.00" y="0.00" font-size="10" fill="#fff" text-anchor="end" transform="translate(801.70 614.40) rotate(-50.5)" stroke="#fff" stroke-width="0.45">2025-07-09</text>
<text x="0.00" y="0.00" font-size="10" fill="#fff" text-anchor="end" transform="translate(822.70 614.40) rotate(-50.5)" stroke="#fff" stroke-width="0.45">2025-07-10</text>
<text x="0.00" y="0.00" font-size="10" fill="#fff" text-anchor="end" transform="translate(843.70 614.40) rotate(-50.5)" stroke="#fff" stroke-width="0.45">2025-07-11</text>
<text x="716.40" y="672.60" font-size="10" font-weight="bold" fill="#fff" text-anchor="middle">日付</text>
<rect x="569.90" y="689.10" width="40.20" height="12.00" fill="#9999ff" stroke="rgba(255,255,255,0.15)" stroke-width="1"/>
<text x="616.40" y="699.20" font-size="12" fill="#fff" stroke="#fff" stroke-width="0.45">instagram</text>
<rect x="678.50" y="689.10" width="40.20" height="12.00" fill="#3b5998" stroke="rgba(255,255,255,0.15)" stroke-width="1"/>
<text x="725.00" y="699.20" font-size="12" fill="#fff" stroke="#fff" stroke-width="0.45">facebook</text>
<rect x="783.70" y="689.10" width="40.20" height="12.00" fill="#1da1f2" stroke="rgba(255,255,255,0.15)" stroke-width="1"/>
<text x="830.20" y="699.20" font-size="12" fill="#fff" stroke="#fff" stroke-width="0.45">X</text>
<rect x="576.30" y="710.80" width="40.20" height="12.00" fill="#00c300" stroke="rgba(255,255,255,0.15)" stroke-width="1"/>
<text x="622.80" y="720.90" font-size="12" fill="#fff" stroke="#fff" stroke-width="0.45">line</text>
<rect x="650.90" y="710.80" width="40.20" height="12.00" fill="#ff0000" stroke="rgba(255,255,255,0.15)" stroke-width="1"/>
<text x="697.40" y="720.90" font-size="12" fill="#fff" stroke="#fff" stroke-width="0.45">youtube</text>
<rect x="749.30" y="710.80" width="40.20" height="12.00" fill="#f0953c" stroke="rgba(255,255,255,0.15)" stroke-width="1"/>
<text x="795.80" y="720.90" font-size="12" fill="#fff" stroke="#fff" stroke-width="0.45">toukan</text>
<rect x="632.00" y="732.50" width="40.20" height="12.00" fill="#007bff" stroke="rgba(255,255,255,0.15)" stroke-width="1"/>
<text x="678.50" y="742.60" font-size="12" fill="#fff" stroke="#fff" stroke-width="0.45">LP</text>
<rect x="702.80" y="732.50" width="40.20" height="12.00" fill="#999999" stroke="rgba(255,255,255,0.15)" stroke-width="1"/>
<text x="749.30" y="742.60" font-size="12" fill="#fff" stroke="#fff" stroke-width="0.45">other</text>
</svg></section>
</main>
</body>
</html>
